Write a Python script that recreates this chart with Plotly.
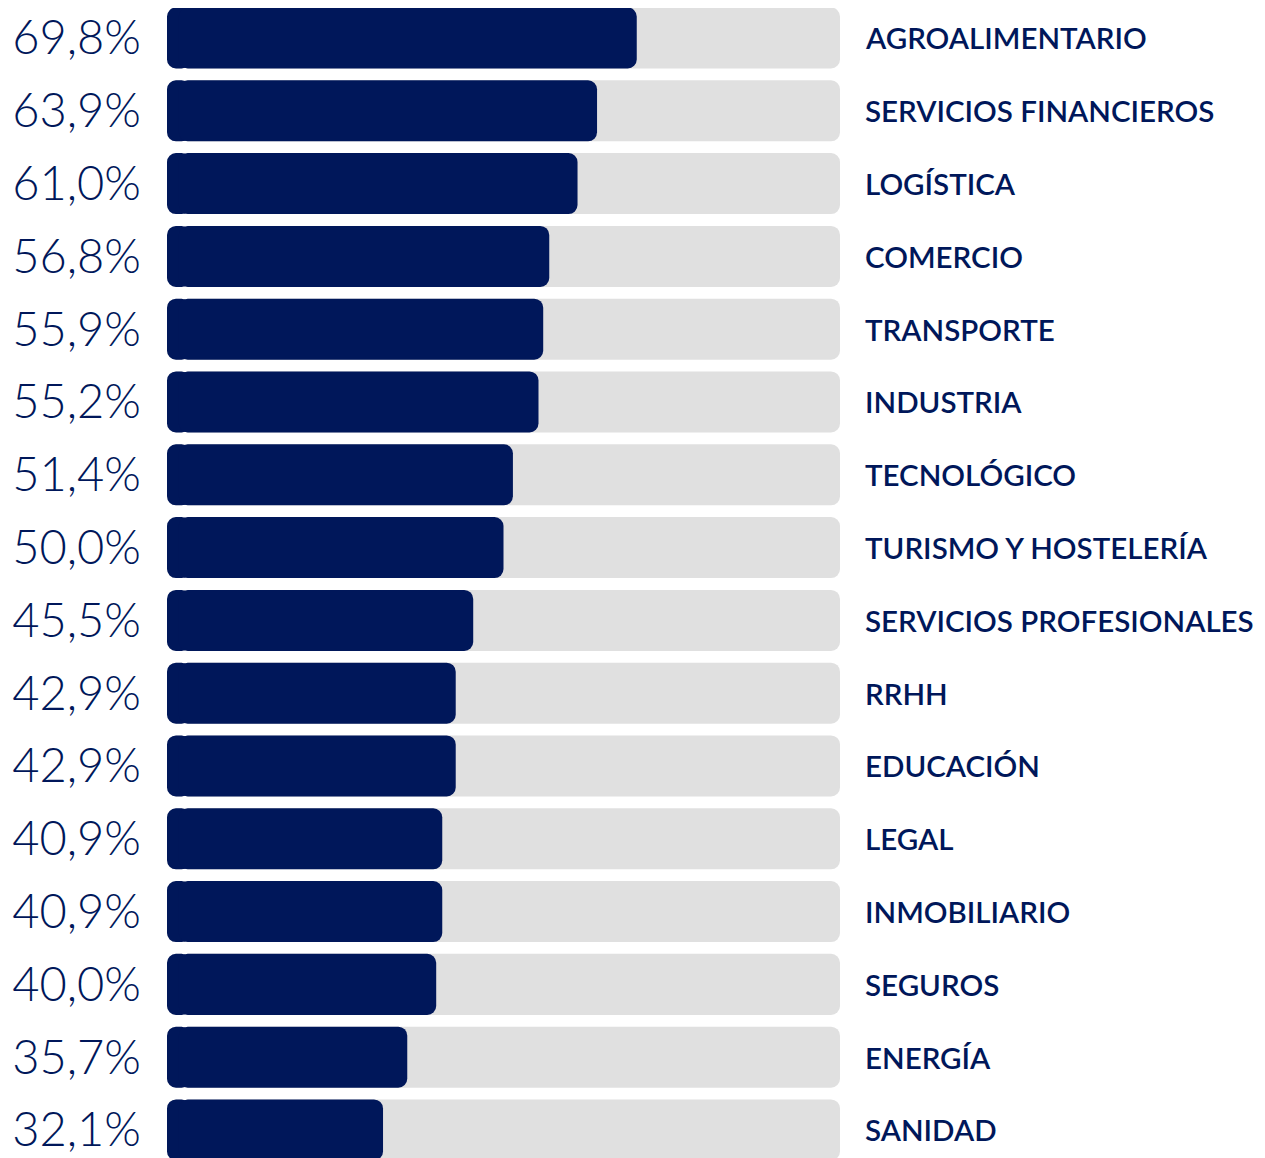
import plotly.graph_objects as go

categories = [
    'AGROALIMENTARIO', 'SERVICIOS FINANCIEROS', 'LOGÍSTICA', 'COMERCIO',
    'TRANSPORTE', 'INDUSTRIA', 'TECNOLÓGICO', 'TURISMO Y HOSTELERÍA',
    'SERVICIOS PROFESIONALES', 'RRHH', 'EDUCACIÓN', 'LEGAL',
    'INMOBILIARIO', 'SEGUROS', 'ENERGÍA', 'SANIDAD',
]
values = [69.8, 63.9, 61.0, 56.8, 55.9, 55.2, 51.4, 50.0,
          45.5, 42.9, 42.9, 40.9, 40.9, 40.0, 35.7, 32.1]
track = [100] * len(categories)

NAVY = '#00175a'
GREY = '#e0e0e0'
RADIUS = 9
STUB = 3.5  # length (in %) of the left rounded cap, overlaps main bar

pct_labels = [f"{v:.1f}".replace('.', ',') + '%' for v in values]


def add_rounded_bar(fig, xs, color):
    """plotly only rounds the far end of a bar, so draw a small reversed
    cap for the left end and the main bar for the right end"""
    n = len(xs)
    fig.add_trace(go.Bar(
        y=categories, x=[-STUB] * n, base=[STUB] * n, orientation='h',
        marker=dict(color=color, cornerradius=RADIUS, line_width=0),
        hoverinfo='skip', showlegend=False,
    ))
    fig.add_trace(go.Bar(
        y=categories, x=[v - STUB / 2 for v in xs], base=[STUB / 2] * n,
        orientation='h',
        marker=dict(color=color, cornerradius=RADIUS, line_width=0),
        customdata=xs,
        hovertemplate='%{y}: %{customdata}%<extra></extra>',
        showlegend=False,
    ))


fig = go.Figure()
add_rounded_bar(fig, track, GREY)
add_rounded_bar(fig, values, NAVY)

# category names on the right
for cat in categories:
    fig.add_annotation(
        x=1, xref='paper', y=cat, yref='y',
        text=cat, showarrow=False, xanchor='left', xshift=23,
        font=dict(family='Lato', size=29.5, color=NAVY, weight=600),
    )

n = len(categories)
fig.update_layout(
    width=1257, height=1150,
    margin=dict(l=159, r=425, t=0, b=0),
    barmode='overlay', bargap=0.162,
    paper_bgcolor='white', plot_bgcolor='white',
    xaxis=dict(range=[0, 100], visible=False, fixedrange=True),
    yaxis=dict(
        range=[n - 0.615, -0.412],
        tickvals=categories, ticktext=pct_labels,
        tickfont=dict(family='Lato', size=47, color=NAVY, weight=300),
        ticklabelstandoff=25, showgrid=False, zeroline=False,
        showline=False, ticks='',
    ),
)

fig.write_html("out.html")
